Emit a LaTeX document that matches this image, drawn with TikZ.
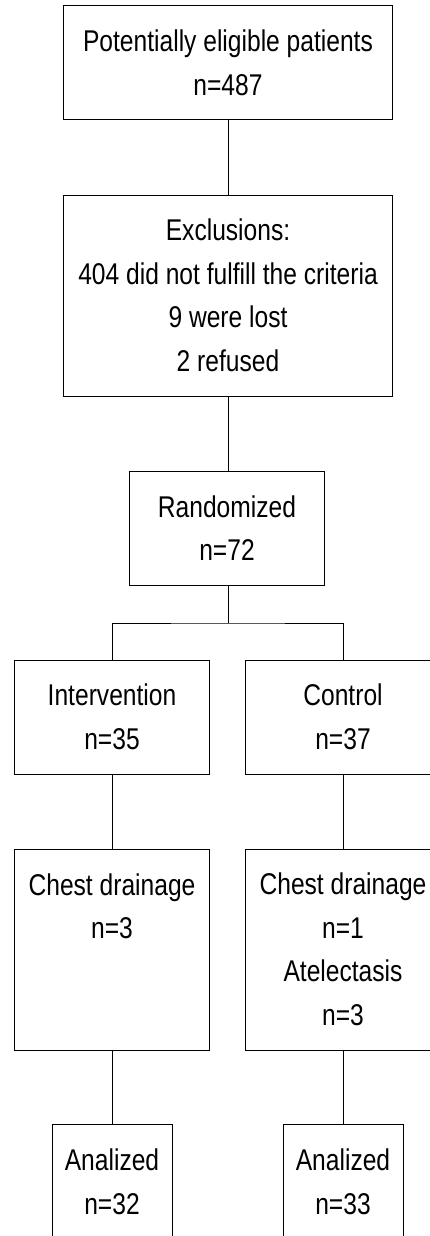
\documentclass[tikz,border=0pt]{standalone}
\usepackage{fontspec}
\setmainfont[FakeStretch=0.82]{Liberation Sans}
\begin{document}
\begin{tikzpicture}[x=1pt,y=-1pt,
  box/.style={draw=black,line width=1pt,inner sep=0pt,align=center,
    font=\fontsize{30}{43.5}\selectfont},
  wide/.style={box,minimum width=329pt},
  mid/.style={box,minimum width=195pt},
  narrow/.style={box,minimum width=120pt},
  conn/.style={line width=1pt,draw=black}]
\useasboundingbox (0,0) rectangle (429,1236);
\fill[white] (0,0) rectangle (429,1236);
\node[wide,minimum height=114pt] (pot) at (228,63) {Potentially eligible patients\\n=487};
\node[wide,minimum height=201pt] (exc) at (228,295.5) {Exclusions:\\404 did not fulfill the criteria\\9 were lost\\2 refused};
\node[mid,minimum height=114pt] (ran) at (227,528) {Randomized\\n=72};
\node[mid,minimum height=114pt] (int) at (112,717) {Intervention\\n=35};
\node[mid,minimum height=114pt] (ctl) at (343,717) {Control\\n=37};
\node[mid,minimum height=201pt] (cdl) at (112,949.5) {Chest drainage\\n=3\\\phantom{A}\\\phantom{n}};
\node[mid,minimum height=201pt] (cdr) at (343,949.5) {Chest drainage\\n=1\\Atelectasis\\n=3};
\node[narrow,minimum height=116pt] (anl) at (112,1182) {Analized\\n=32};
\node[narrow,minimum height=116pt] (anr) at (343,1182) {Analized\\n=33};
\coordinate (sp) at (228,623);
\draw[conn] (pot.south) -- (exc.north);
\draw[conn] (exc.south) -- (exc.south |- ran.north);
\draw[conn] (ran.south -| sp) -- (sp);
\draw[conn] (int.north) |- (sp) -| (ctl.north);
\draw[conn] (int.south) -- (cdl.north);
\draw[conn] (ctl.south) -- (cdr.north);
\draw[conn] (cdl.south) -- (anl.north);
\draw[conn] (cdr.south) -- (anr.north);
\end{tikzpicture}
\end{document}
